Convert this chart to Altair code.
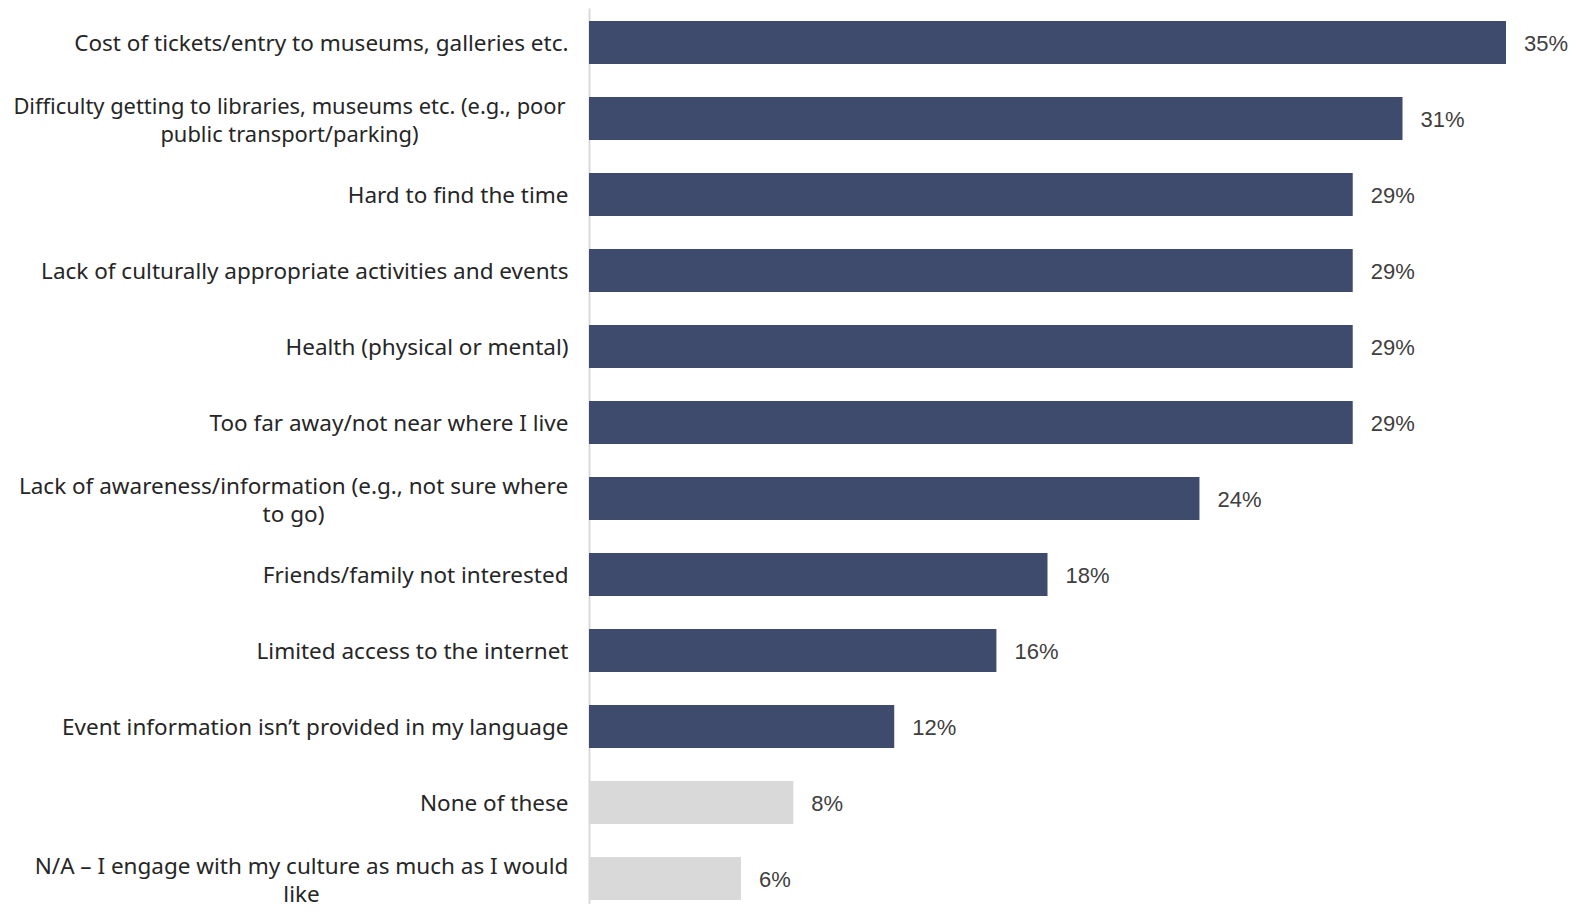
import altair as alt
import pandas as pd

categories = [
    "Cost of tickets/entry to museums, galleries etc.",
    "Difficulty getting to libraries, museums etc. (e.g., poor|public transport/parking)",
    "Hard to find the time",
    "Lack of culturally appropriate activities and events",
    "Health (physical or mental)",
    "Too far away/not near where I live",
    "Lack of awareness/information (e.g., not sure where|to go)",
    "Friends/family not interested",
    "Limited access to the internet",
    "Event information isn\u2019t provided in my language",
    "None of these",
    "N/A \u2013 I engage with my culture as much as I would|like",
]
values = [35.0, 31.05, 29.15, 29.15, 29.15, 29.15, 23.3, 17.5, 15.55, 11.65, 7.8, 5.8]
value_labels = ["35%", "31%", "29%", "29%", "29%", "29%", "24%", "18%", "16%", "12%", "8%", "6%"]
groups = ["barrier"] * 10 + ["none"] * 2

df = pd.DataFrame({
    "category": categories,
    "value": values,
    "label": value_labels,
    "group": groups,
})

multi = "indexof(datum.label, '|') >= 0"
is_difficulty = "indexof(datum.label, 'Difficulty') == 0"

y_enc = alt.Y(
    "category:N",
    sort=categories,
    title=None,
    scale=alt.Scale(paddingInner=0.434, paddingOuter=0.112, align=0.76),
    axis=alt.Axis(
        labelExpr="split(datum.label, '|')",
        labelFont="Noto Sans",
        labelFontSize={"condition": {"test": is_difficulty, "value": 21.9}, "value": 22.5},
        labelColor="#262626",
        labelPadding={
            "condition": [
                {"test": is_difficulty, "value": 300},
                {"test": "indexof(datum.label, 'Lack of awareness') == 0", "value": 296},
                {"test": "indexof(datum.label, 'N/A') == 0", "value": 288},
            ],
            "value": 21,
        },
        labelAlign={"condition": {"test": multi, "value": "center"}, "value": "right"},
        labelLimit=0,
        labelLineHeight=28,
        labelOffset={"condition": {"test": multi, "value": -11}, "value": 2},
        ticks=False,
        domainColor="#d9d9d9",
        domainWidth=2,
        grid=False,
    ),
)
x_enc = alt.X("value:Q", scale=alt.Scale(domain=[0, 35], nice=False), axis=None)

base = alt.Chart(df)

bars = base.mark_bar().encode(
    y=y_enc,
    x=x_enc,
    color=alt.Color(
        "group:N",
        scale=alt.Scale(domain=["barrier", "none"], range=["#3e4b6d", "#d9d9d9"]),
        legend=None,
    ),
)

texts = base.mark_text(
    align="left", baseline="middle", dx=18, dy=2, font="Liberation Sans", fontSize=22, color="#404040"
).encode(y=y_enc, x=x_enc, text="label:N")

chart = (
    alt.layer(bars, texts)
    .properties(
        width=917,
        height=896,
        autosize=alt.AutoSizeParams(type="none"),
        padding={"left": 581, "right": 62, "top": 0, "bottom": 0},
    )
    .configure_view(stroke=None)
)

chart.save("out.html", embed_options={"renderer": "svg", "actions": False})
